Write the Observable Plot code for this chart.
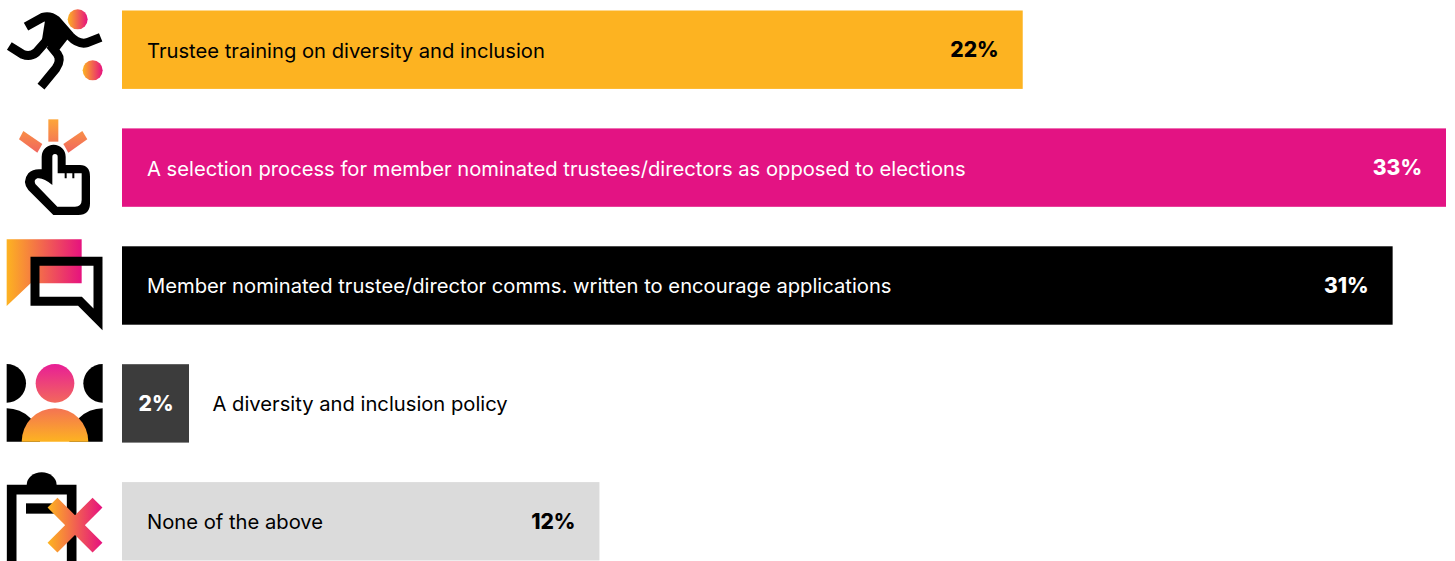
<!DOCTYPE html>
<html>
<head>
<meta charset="utf-8">
<script src="https://cdn.jsdelivr.net/npm/d3@7"></script>
<script src="https://cdn.jsdelivr.net/npm/@observablehq/plot@0.6"></script>
<style>
html,body{margin:0;padding:0;background:#fff;overflow:hidden}
svg{display:block}
</style>
</head>
<body>
<div id="chart"></div>
<script>
const categories = [
  "Trustee training on diversity and inclusion",
  "A selection process for member nominated trustees/directors as opposed to elections",
  "Member nominated trustee/director comms. written to encourage applications",
  "A diversity and inclusion policy",
  "None of the above"
];
const barLengths = [22.45, 33, 31.67, 1.67, 11.9];
const valueLabels = ["22%", "33%", "31%", "2%", "12%"];
const barColors = ["#FDB321", "#E31383", "#000000", "#3C3C3C", "#DBDBDB"];
const nameColors = ["#000", "#fff", "#fff", "#000", "#000"];
const valueColors = ["#000", "#fff", "#fff", "#fff", "#000"];
const rows = categories.map((name, i) => ({
  name, len: barLengths[i], label: valueLabels[i], color: barColors[i],
  nameColor: nameColors[i], valueColor: valueColors[i], outside: barLengths[i] < 5
}));
const FONT = "Inter, 'Noto Sans', sans-serif";

const iconMarkup = `
<defs>
  <linearGradient id="hg"><stop offset="0" stop-color="#FDB321"/><stop offset="1" stop-color="#E6127F"/></linearGradient>
  <linearGradient id="crossG" gradientUnits="userSpaceOnUse" x1="145" x2="305" y1="0" y2="0"><stop offset="0" stop-color="#FDB321"/><stop offset="1" stop-color="#E6127F"/></linearGradient>
  <linearGradient id="rayG" gradientUnits="userSpaceOnUse" x1="0" x2="0" y1="358" y2="460"><stop offset="0" stop-color="#FDA63A"/><stop offset="1" stop-color="#F0645F"/></linearGradient>
  <linearGradient id="peopleG" gradientUnits="userSpaceOnUse" x1="0" x2="0" y1="402" y2="635"><stop offset="0" stop-color="#E81E96"/><stop offset="1" stop-color="#FDB321"/></linearGradient>
  <clipPath id="peopleClip"><rect x="20" y="400" width="288" height="235"/></clipPath>
</defs>
<g transform="scale(0.33333)">
  <circle cx="233" cy="58" r="30" fill="url(#hg)"/>
  <circle cx="278" cy="211" r="30" fill="url(#hg)"/>
  <g fill="none" stroke="#000" stroke-width="27" stroke-linejoin="round">
    <path d="M78 80 L128 52 Q150 46 168 60 L210 108 Q235 135 262 128 L302 112"/>
    <path d="M28 138 L68 163 Q90 172 108 158 L170 88"/>
    <path d="M150 135 L172 162 Q185 180 168 205 L123 260"/>
  </g>
  <path d="M135 62 L180 62 L205 115 L170 160 L125 125 Z" fill="#000"/>

  <path d="M145 358H175V425H145Z" fill="url(#rayG)"/>
  <path d="M70 393L127 432L112 458L57 418Z" fill="url(#rayG)"/>
  <path d="M247 393L262 418L205 458L190 432Z" fill="url(#rayG)"/>
  <path d="M125 470A36 36 0 0 1 197 470V495H240Q270 495 270 530V610Q270 645 235 645H160L85 570Q65 545 85 520Q100 505 125 508Z" fill="#000"/>
  <path d="M157 470A8 8 0 0 1 173 470V520H245V600Q245 620 225 620H172L106 552Q100 540 112 535Q130 532 157 555Z" fill="#fff"/>
  <path d="M197 518V535M220 518V535" stroke="#000" stroke-width="6" fill="none"/>
</g>
<g transform="translate(0,230) scale(0.33333)">
  <path d="M20 28H245V160H92L20 228Z" fill="url(#hg)"/>
  <path d="M105 94H294V268L240 214H105Z" fill="none" stroke="#000" stroke-width="27"/>
  <g clip-path="url(#peopleClip)">
    <circle cx="20" cy="460" r="58" fill="#000"/>
    <circle cx="308" cy="460" r="58" fill="#000"/>
    <circle cx="20" cy="635" r="100" fill="#000"/>
    <circle cx="308" cy="635" r="100" fill="#000"/>
    <circle cx="165" cy="460" r="58" fill="url(#peopleG)"/>
    <circle cx="165" cy="635" r="100" fill="url(#peopleG)"/>
  </g>
  <path d="M80 765A45 38 0 0 1 170 765Z" fill="#000"/>
  <path d="M35 1000V779H215V1000" fill="none" stroke="#000" stroke-width="29"/>
  <path d="M78 820H165V851H78Z" fill="#000"/>
  <path d="M157.5 818L292.5 953M292.5 818L157.5 953" stroke="url(#crossG)" stroke-width="42" fill="none"/>
</g>`;

const iconsMark = () => {
  const g = document.createElementNS("http://www.w3.org/2000/svg", "g");
  g.innerHTML = iconMarkup;
  return g;
};

const chart = Plot.plot({
  width: 1455,
  height: 561,
  marginLeft: 0, marginRight: 0, marginTop: 0, marginBottom: 0,
  style: {background: "#fff", fontFamily: FONT},
  x: {domain: [0, 33], range: [122, 1446], axis: null},
  y: {domain: categories, range: [10.5, 560.5], paddingInner: 0.335, paddingOuter: 0, round: false, axis: null},
  marks: [
    Plot.barX(rows, {x1: 0, x2: "len", y: "name", fill: d => d.color, inset: 0}),
    Plot.text(rows, {
      x: d => d.outside ? d.len : 0, y: "name", text: "name",
      fill: d => d.nameColor, textAnchor: "start",
      fontSize: 20.2, fontWeight: 400,
      render(index, scales, values, dims, context, next) {
        const el = next(index, scales, values, dims, context);
        el.querySelectorAll("text").forEach((t, k) => {
          const r = rows[index[k]];
          t.setAttribute("dx", r.outside ? 23 : 24.5);
          t.setAttribute("dy", 1);
        });
        return el;
      }
    }),
    Plot.text(rows, {
      x: "len", y: "name", text: "label",
      fill: d => d.valueColor, textAnchor: "end",
      fontSize: 21, fontWeight: 800,
      render(index, scales, values, dims, context, next) {
        const el = next(index, scales, values, dims, context);
        el.querySelectorAll("text").forEach((t, k) => {
          const r = rows[index[k]];
          t.setAttribute("dx", r.outside ? -16 : -24.5);
          t.setAttribute("dy", 0.5);
        });
        return el;
      }
    }),
    iconsMark
  ]
});
document.getElementById("chart").appendChild(chart);
</script>
</body>
</html>
